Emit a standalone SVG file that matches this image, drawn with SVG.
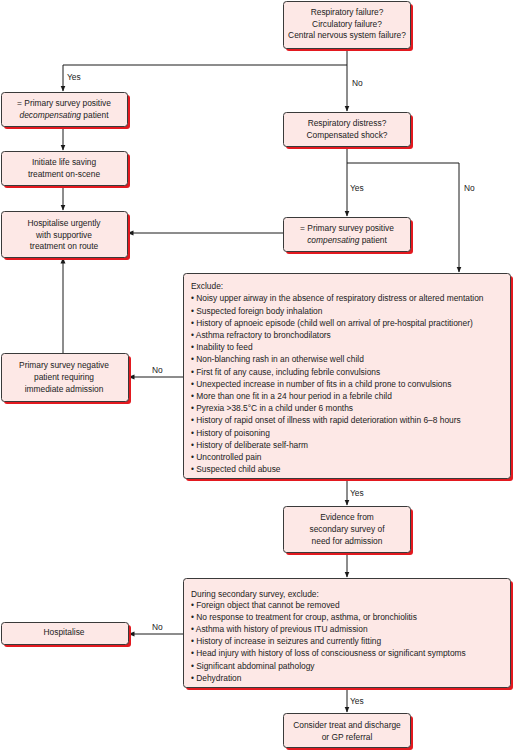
<svg xmlns="http://www.w3.org/2000/svg" width="513" height="750" viewBox="0 0 513 750">
<defs>
<marker id="ah" markerWidth="6" markerHeight="6" refX="5.5" refY="3" orient="auto" markerUnits="userSpaceOnUse">
<path d="M0,0.5 L6,3 L0,5.5 Z" fill="#1a1a1a"/>
</marker>
</defs>
<style>
.sh{fill:#e3191f;stroke:none}
.bx{fill:#fde8e6;stroke:#3a3a3a;stroke-width:1}
text{font-family:"Liberation Sans",Arial,sans-serif;font-size:8.4px;fill:#222}
.c{text-anchor:middle}
.ln{fill:none;stroke:#1a1a1a;stroke-width:1}
</style>
<rect width="513" height="750" fill="#fff"/>
<g id="connectors">
<path class="ln" d="M347,48 V111" marker-end="url(#ah)"/>
<path class="ln" d="M347,65 H63 V91" marker-end="url(#ah)"/>
<path class="ln" d="M63,126 V150" marker-end="url(#ah)"/>
<path class="ln" d="M63,185 V210" marker-end="url(#ah)"/>
<path class="ln" d="M347,146 V216" marker-end="url(#ah)"/>
<path class="ln" d="M347,163 H459 V272" marker-end="url(#ah)"/>
<path class="ln" d="M283,233 H128" marker-end="url(#ah)"/>
<path class="ln" d="M183,377 H129" marker-end="url(#ah)"/>
<path class="ln" d="M63,353 V258" marker-end="url(#ah)"/>
<path class="ln" d="M347,478 V505" marker-end="url(#ah)"/>
<path class="ln" d="M347,552 V577" marker-end="url(#ah)"/>
<path class="ln" d="M183,634 H129" marker-end="url(#ah)"/>
<path class="ln" d="M347,687 V712" marker-end="url(#ah)"/>
<text x="352" y="86">No</text>
<text x="67" y="80">Yes</text>
<text x="350" y="191">Yes</text>
<text x="464" y="191">No</text>
<text x="152" y="373">No</text>
<text x="350" y="496">Yes</text>
<text x="152" y="630">No</text>
<text x="350" y="704">Yes</text>
</g>
<g id="n_failure">
<rect class="sh" x="286" y="4" width="127" height="47" rx="3"/>
<rect class="bx" x="283.5" y="1.5" width="127" height="47" rx="3"/>
<text class="c" x="347" y="15">Respiratory failure?</text>
<text class="c" x="347" y="26.5">Circulatory failure?</text>
<text class="c" x="347" y="38">Central nervous system failure?</text>
</g>
<g id="n_decomp">
<rect class="sh" x="4" y="95" width="126" height="34" rx="3"/>
<rect class="bx" x="1.5" y="92.5" width="126" height="34" rx="3"/>
<text class="c" x="64" y="106">= Primary survey positive</text>
<text class="c" x="64" y="118"><tspan font-style="italic">decompensating</tspan> patient</text>
</g>
<g id="n_initiate">
<rect class="sh" x="4" y="154" width="126" height="34" rx="3"/>
<rect class="bx" x="1.5" y="151.5" width="126" height="34" rx="3"/>
<text class="c" x="64" y="165">Initiate life saving</text>
<text class="c" x="64" y="177">treatment on-scene</text>
</g>
<g id="n_hosp_urgent">
<rect class="sh" x="4" y="214" width="126" height="46" rx="3"/>
<rect class="bx" x="1.5" y="211.5" width="126" height="46" rx="3"/>
<text class="c" x="64" y="226">Hospitalise urgently</text>
<text class="c" x="64" y="237.5">with supportive</text>
<text class="c" x="64" y="249">treatment on route</text>
</g>
<g id="n_distress">
<rect class="sh" x="286" y="115" width="127" height="34" rx="3"/>
<rect class="bx" x="283.5" y="112.5" width="127" height="34" rx="3"/>
<text class="c" x="347" y="126">Respiratory distress?</text>
<text class="c" x="347" y="138">Compensated shock?</text>
</g>
<g id="n_comp">
<rect class="sh" x="286" y="220" width="127" height="34" rx="3"/>
<rect class="bx" x="283.5" y="217.5" width="127" height="34" rx="3"/>
<text class="c" x="347" y="231">= Primary survey positive</text>
<text class="c" x="347" y="243"><tspan font-style="italic">compensating</tspan> patient</text>
</g>
<g id="n_exclude">
<rect class="sh" x="186" y="276" width="327" height="205" rx="3"/>
<rect class="bx" x="183.5" y="273.5" width="327" height="205" rx="3"/>
<text x="191" y="289">Exclude:</text>
<text x="191" y="301.3">• Noisy upper airway in the absence of respiratory distress or altered mentation</text>
<text x="191" y="313.5">• Suspected foreign body inhalation</text>
<text x="191" y="325.7">• History of apnoeic episode (child well on arrival of pre-hospital practitioner)</text>
<text x="191" y="337.9">• Asthma refractory to bronchodilators</text>
<text x="191" y="350.1">• Inability to feed</text>
<text x="191" y="362.3">• Non-blanching rash in an otherwise well child</text>
<text x="191" y="374.5">• First fit of any cause, including febrile convulsions</text>
<text x="191" y="386.7">• Unexpected increase in number of fits in a child prone to convulsions</text>
<text x="191" y="398.9">• More than one fit in a 24 hour period in a febrile child</text>
<text x="191" y="411.1">• Pyrexia &gt;38.5°C in a child under 6 months</text>
<text x="191" y="423.3">• History of rapid onset of illness with rapid deterioration within 6–8 hours</text>
<text x="191" y="435.5">• History of poisoning</text>
<text x="191" y="447.7">• History of deliberate self-harm</text>
<text x="191" y="459.9">• Uncontrolled pain</text>
<text x="191" y="472.1">• Suspected child abuse</text>
</g>
<g id="n_negative">
<rect class="sh" x="4" y="356" width="127" height="48" rx="3"/>
<rect class="bx" x="1.5" y="353.5" width="127" height="48" rx="3"/>
<text class="c" x="64" y="368">Primary survey negative</text>
<text class="c" x="64" y="380">patient requiring</text>
<text class="c" x="64" y="392">immediate admission</text>
</g>
<g id="n_evidence">
<rect class="sh" x="286" y="509" width="127" height="46" rx="3"/>
<rect class="bx" x="283.5" y="506.5" width="127" height="46" rx="3"/>
<text class="c" x="347" y="520">Evidence from</text>
<text class="c" x="347" y="532">secondary survey of</text>
<text class="c" x="347" y="544">need for admission</text>
</g>
<g id="n_secondary">
<rect class="sh" x="186" y="581" width="327" height="109" rx="3"/>
<rect class="bx" x="183.5" y="578.5" width="327" height="109" rx="3"/>
<text x="191" y="597">During secondary survey, exclude:</text>
<text x="191" y="607.5">• Foreign object that cannot be removed</text>
<text x="191" y="619.7">• No response to treatment for croup, asthma, or bronchiolitis</text>
<text x="191" y="631.9">• Asthma with history of previous ITU admission</text>
<text x="191" y="644.1">• History of increase in seizures and currently fitting</text>
<text x="191" y="656.3">• Head injury with history of loss of consciousness or significant symptoms</text>
<text x="191" y="668.5">• Significant abdominal pathology</text>
<text x="191" y="680.7">• Dehydration</text>
</g>
<g id="n_hospitalise">
<rect class="sh" x="4" y="625" width="127" height="22" rx="3"/>
<rect class="bx" x="1.5" y="622.5" width="127" height="22" rx="3"/>
<text class="c" x="64" y="635">Hospitalise</text>
</g>
<g id="n_discharge">
<rect class="sh" x="286" y="716" width="127" height="34" rx="3"/>
<rect class="bx" x="283.5" y="713.5" width="127" height="34" rx="3"/>
<text class="c" x="347" y="728">Consider treat and discharge</text>
<text class="c" x="347" y="740">or GP referral</text>
</g>
</svg>
